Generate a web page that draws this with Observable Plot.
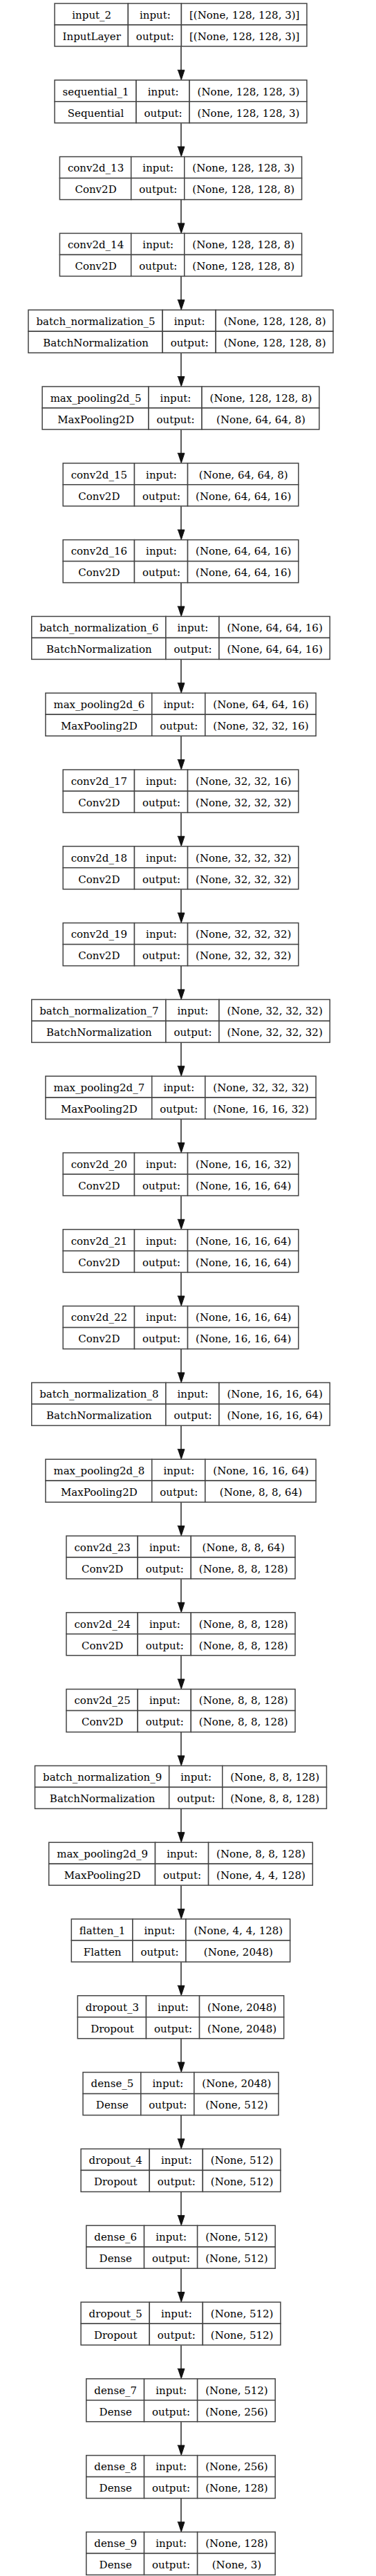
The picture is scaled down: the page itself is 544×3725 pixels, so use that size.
<!DOCTYPE html>
<html>
<head>
<meta charset="utf-8">
<script src="https://cdn.jsdelivr.net/npm/d3@7"></script>
<script src="https://cdn.jsdelivr.net/npm/@observablehq/plot@0.6"></script>
<style>
  body { margin: 0; background: white; }
</style>
</head>
<body>
<div id="chart"></div>
<script>
const names = ["input_2","sequential_1","conv2d_13","conv2d_14","batch_normalization_5","max_pooling2d_5",
  "conv2d_15","conv2d_16","batch_normalization_6","max_pooling2d_6","conv2d_17","conv2d_18","conv2d_19",
  "batch_normalization_7","max_pooling2d_7","conv2d_20","conv2d_21","conv2d_22","batch_normalization_8",
  "max_pooling2d_8","conv2d_23","conv2d_24","conv2d_25","batch_normalization_9","max_pooling2d_9",
  "flatten_1","dropout_3","dense_5","dropout_4","dense_6","dropout_5","dense_7","dense_8","dense_9"]
const classes = ["InputLayer","Sequential","Conv2D","Conv2D","BatchNormalization","MaxPooling2D",
  "Conv2D","Conv2D","BatchNormalization","MaxPooling2D","Conv2D","Conv2D","Conv2D",
  "BatchNormalization","MaxPooling2D","Conv2D","Conv2D","Conv2D","BatchNormalization",
  "MaxPooling2D","Conv2D","Conv2D","Conv2D","BatchNormalization","MaxPooling2D",
  "Flatten","Dropout","Dense","Dropout","Dense","Dropout","Dense","Dense","Dense"]
const inputs = ["[(None, 128, 128, 3)]","(None, 128, 128, 3)","(None, 128, 128, 3)","(None, 128, 128, 8)",
  "(None, 128, 128, 8)","(None, 128, 128, 8)","(None, 64, 64, 8)","(None, 64, 64, 16)","(None, 64, 64, 16)",
  "(None, 64, 64, 16)","(None, 32, 32, 16)","(None, 32, 32, 32)","(None, 32, 32, 32)","(None, 32, 32, 32)",
  "(None, 32, 32, 32)","(None, 16, 16, 32)","(None, 16, 16, 64)","(None, 16, 16, 64)","(None, 16, 16, 64)",
  "(None, 16, 16, 64)","(None, 8, 8, 64)","(None, 8, 8, 128)","(None, 8, 8, 128)","(None, 8, 8, 128)",
  "(None, 8, 8, 128)","(None, 4, 4, 128)","(None, 2048)","(None, 2048)","(None, 512)","(None, 512)",
  "(None, 512)","(None, 512)","(None, 256)","(None, 128)"]
const outputs = ["[(None, 128, 128, 3)]","(None, 128, 128, 3)","(None, 128, 128, 8)","(None, 128, 128, 8)",
  "(None, 128, 128, 8)","(None, 64, 64, 8)","(None, 64, 64, 16)","(None, 64, 64, 16)","(None, 64, 64, 16)",
  "(None, 32, 32, 16)","(None, 32, 32, 32)","(None, 32, 32, 32)","(None, 32, 32, 32)","(None, 32, 32, 32)",
  "(None, 16, 16, 32)","(None, 16, 16, 64)","(None, 16, 16, 64)","(None, 16, 16, 64)","(None, 16, 16, 64)",
  "(None, 8, 8, 64)","(None, 8, 8, 128)","(None, 8, 8, 128)","(None, 8, 8, 128)","(None, 8, 8, 128)",
  "(None, 4, 4, 128)","(None, 2048)","(None, 2048)","(None, 512)","(None, 512)","(None, 512)",
  "(None, 512)","(None, 256)","(None, 128)","(None, 3)"]

// layout
const W = 544, H = 3725, cx = 261.5, top0 = 5, step = 110.8, rowH = 31, pad = 11
const fontSize = 15, font = `${fontSize}px "DejaVu Serif"`
const ctx = document.createElement("canvas").getContext("2d")
ctx.font = font
const tw = s => ctx.measureText(s).width

const cells = [], labels = [], heads = [], shafts = []
names.forEach((n, i) => {
  const top = top0 + i * step
  const w1 = Math.max(tw(n), tw(classes[i])) + 2 * pad
  const w2 = tw("output:") + 2 * pad
  const w3 = Math.max(tw(inputs[i]), tw(outputs[i])) + 2 * pad
  const x0 = cx - (w1 + w2 + w3) / 2
  const cols = [[x0, x0 + w1], [x0 + w1, x0 + w1 + w2], [x0 + w1 + w2, x0 + w1 + w2 + w3]]
  const texts = [[n, classes[i]], ["input:", "output:"], [inputs[i], outputs[i]]]
  cols.forEach(([a, b], c) => {
    for (let r = 0; r < 2; r++) {
      cells.push({x1: a, x2: b, y1: top + r * rowH, y2: top + (r + 1) * rowH})
      labels.push({x: (a + b) / 2, y: top + r * rowH + rowH / 2, text: texts[c][r]})
    }
  })
  if (i > 0) {
    const prevBottom = top0 + (i - 1) * step + 2 * rowH
    shafts.push({x1: cx, y1: prevBottom, x2: cx, y2: top - 12})
    heads.push({id: i, x: cx - 5, y: top - 15}, {id: i, x: cx + 5, y: top - 15}, {id: i, x: cx, y: top})
  }
})

const chart = Plot.plot({
  width: W, height: H,
  margin: 0,
  x: {type: "identity"},
  y: {type: "identity"},
  style: {background: "white"},
  marks: [
    Plot.link(shafts, {x1: "x1", y1: "y1", x2: "x2", y2: "y2", stroke: "#333", strokeWidth: 1.6}),
    Plot.line(heads, {x: "x", y: "y", z: "id", fill: "#111", stroke: "#111", strokeWidth: 1}),
    Plot.rect(cells, {x1: "x1", x2: "x2", y1: "y1", y2: "y2", fill: "white", stroke: "#444", strokeWidth: 1.5}),
    Plot.text(labels, {x: "x", y: "y", text: "text", fill: "black", fontSize, fontFamily: "DejaVu Serif", dy: 1})
  ]
})
document.getElementById("chart").append(chart)
</script>
</body>
</html>
